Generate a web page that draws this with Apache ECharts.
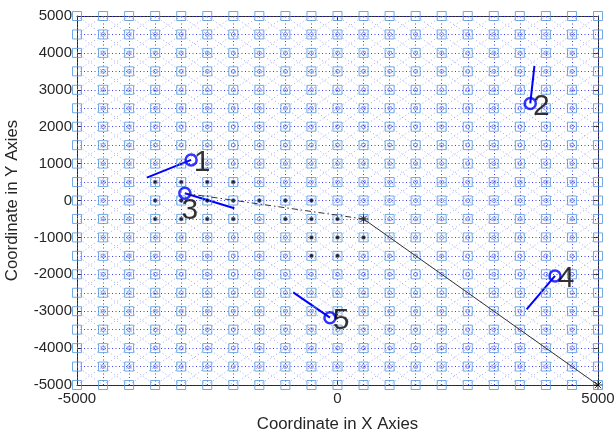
<!DOCTYPE html>
<html><head><meta charset="utf-8">
<script src="https://cdn.jsdelivr.net/npm/echarts@6/dist/echarts.min.js"></script>
<style>html,body{margin:0;padding:0;background:#fff}#c{width:614px;height:435px}</style>
</head><body><div id="c"></div>
<script>
// grid node coordinates (both axes)
const gridValues = [-5000,-4500,-4000,-3500,-3000,-2500,-2000,-1500,-1000,-500,0,500,1000,1500,2000,2500,3000,3500,4000,4500,5000];
const xTickValues = [-5000, 0, 5000];
const yTickValues = [-5000,-4000,-3000,-2000,-1000,0,1000,2000,3000,4000,5000];
// visited nodes (black dots)
const visitedX = [-3500,-3000,-2500,-2000, -3500,-3000,-2500,-2000,-1500,-1000,-500, -3500,-3000,-2500,-2000,-1000,-500,0, -500,0,500, -500,0];
const visitedY = [500,500,500,500, 0,0,0,0,0,0,0, -500,-500,-500,-500,-500,-500,-500, -1000,-1000,-1000, -1500,-1500];
// agents
const agentIds = ['1','2','3','4','5'];
const agentX = [-2810, 3700, -2930, 4175, -145];
const agentY = [1100, 2630, 195, -2045, -3175];
const headX = [-3660, 3780, -1980, 3630, -850];
const headY = [620, 3650, -210, -2950, -2490];
// planned path
const pathX = [-2930, 500, 5000];
const pathY = [195, -500, -5000];

const n = gridValues.length;
const lo = gridValues[0], hi = gridValues[n-1];
const hvLines = [], diagLines = [];
gridValues.forEach(v => {
  hvLines.push({coords: [[lo, v], [hi, v]]});
  hvLines.push({coords: [[v, lo], [v, hi]]});
});
for (let k = -(n-1); k <= n-1; k++) {
  const i0 = Math.max(k, 0), i1 = Math.min(n-1, n-1+k);
  if (i1 > i0) diagLines.push({coords: [[gridValues[i0], gridValues[i0-k]], [gridValues[i1], gridValues[i1-k]]]});
}
for (let s = 0; s <= 2*(n-1); s++) {
  const i0 = Math.max(0, s-(n-1)), i1 = Math.min(n-1, s);
  if (i1 > i0) diagLines.push({coords: [[gridValues[i0], gridValues[s-i0]], [gridValues[i1], gridValues[s-i1]]]});
}
const allNodes = [], innerNodes = [];
gridValues.forEach((x, i) => gridValues.forEach((y, j) => {
  allNodes.push([x, y]);
  if (i > 0 && j > 0 && i < n-1 && j < n-1) innerNodes.push([x, y]);
}));
const visited = visitedX.map((x, i) => [x, visitedY[i]]);
const headLines = agentX.map((x, i) => ({coords: [[headX[i], headY[i]], [x, agentY[i]]]}));
const agentPts = agentX.map((x, i) => {
  const d = {value: [x, agentY[i]], name: agentIds[i]};
  if (agentIds[i] === '3') d.label = {position: 'bottom', distance: 0, offset: [5, -4]};
  return d;
});

const axisCol = '#262626';
const font = 'Liberation Sans, Arial, sans-serif';
const plain = v => String(v);
const star = 'path://M0,-5L0,5M-5,0L5,0M-3.6,-3.6L3.6,3.6M-3.6,3.6L3.6,-3.6';
const chart = echarts.init(document.getElementById('c'), null, {renderer: 'canvas'});
chart.setOption({
  animation: false,
  grid: {left: 77, right: 16, top: 16, bottom: 50, outerBoundsMode: 'none', containLabel: false},
  xAxis: [{
    type: 'value', min: lo, max: hi, interval: 5000,
    name: 'Coordinate in X Axies', nameLocation: 'middle', nameGap: 31,
    nameTextStyle: {fontFamily: font, fontSize: 16.8, color: axisCol},
    axisLine: {onZero: false, lineStyle: {color: axisCol}}, axisTick: {inside: true, length: 5, lineStyle: {color: axisCol}},
    axisLabel: {fontFamily: font, fontSize: 15, color: axisCol, margin: 6, formatter: plain}, splitLine: {show: false}
  }, {
    type: 'value', min: lo, max: hi, interval: 5000, position: 'top',
    axisLine: {onZero: false, lineStyle: {color: axisCol}}, axisTick: {inside: true, length: 5, lineStyle: {color: axisCol}},
    axisLabel: {show: false}, splitLine: {show: false}
  }],
  yAxis: [{
    type: 'value', min: lo, max: hi, interval: 1000,
    name: 'Coordinate in Y Axies', nameLocation: 'middle', nameGap: 56, nameRotate: 90,
    nameTextStyle: {fontFamily: font, fontSize: 16.8, color: axisCol},
    axisLine: {show: true, onZero: false, lineStyle: {color: axisCol}}, axisTick: {show: true, inside: true, length: 5, lineStyle: {color: axisCol}},
    axisLabel: {fontFamily: font, fontSize: 15, color: axisCol, margin: 5, formatter: plain}, splitLine: {show: false}
  }, {
    type: 'value', min: lo, max: hi, interval: 1000, position: 'right',
    axisLine: {show: true, onZero: false, lineStyle: {color: axisCol}}, axisTick: {show: true, inside: true, length: 5, lineStyle: {color: axisCol}},
    axisLabel: {show: false}, splitLine: {show: false}
  }],
  series: [
    {type: 'lines', coordinateSystem: 'cartesian2d', silent: true, data: diagLines,
     lineStyle: {color: '#9ea6f4', width: 1, type: [1, 2.5], opacity: 1}},
    {type: 'lines', coordinateSystem: 'cartesian2d', silent: true, data: hvLines,
     lineStyle: {color: '#4040f0', width: 1, type: [1, 2.5], opacity: 1}},
    {type: 'scatter', data: allNodes, symbol: 'rect', symbolSize: 9, silent: true,
     itemStyle: {color: 'rgba(0,0,0,0)', borderColor: '#4f96db', borderWidth: 1}},
    {type: 'scatter', data: innerNodes, symbol: 'circle', symbolSize: 4, silent: true,
     itemStyle: {color: 'rgba(0,0,0,0)', borderColor: '#6a7ee6', borderWidth: 1}},
    {type: 'scatter', data: visited, symbol: 'circle', symbolSize: 3.5, silent: true,
     itemStyle: {color: '#000'}},
    {type: 'line', data: [[pathX[0], pathY[0]], [pathX[1], pathY[1]]], symbol: 'none', silent: true,
     lineStyle: {color: '#333', width: 1, type: [6, 3, 1.5, 3]}},
    {type: 'line', data: [[pathX[1], pathY[1]], [pathX[2], pathY[2]]], symbol: 'none', silent: true,
     lineStyle: {color: '#333', width: 1}},
    {type: 'scatter', data: [[pathX[1], pathY[1]], [pathX[2], pathY[2]]], symbol: star, symbolSize: 9, silent: true,
     itemStyle: {color: 'rgba(0,0,0,0)', borderColor: '#000', borderWidth: 1}},
    {type: 'lines', coordinateSystem: 'cartesian2d', silent: true, data: headLines,
     lineStyle: {color: '#0000ff', width: 2, opacity: 1}},
    {type: 'scatter', data: agentPts, symbol: 'circle', symbolSize: 11, silent: true,
     itemStyle: {color: 'rgba(0,0,0,0)', borderColor: '#0000ff', borderWidth: 2.5},
     label: {show: true, formatter: p => p.name, position: 'right', distance: -3, offset: [-1, 3],
       fontFamily: font, fontSize: 30, color: '#000'}}
  ]
});
</script></body></html>
